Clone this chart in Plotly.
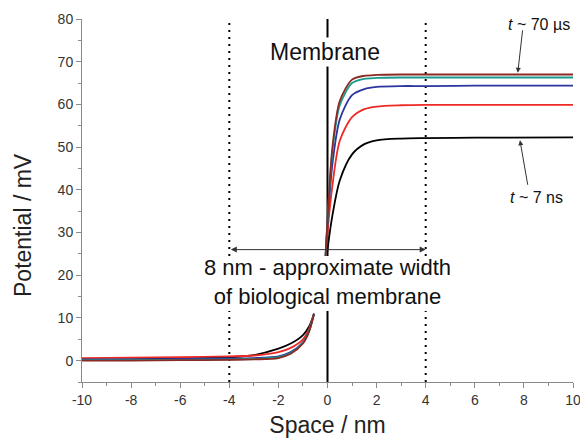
import plotly.graph_objects as go

# ---- data ----
# left part of the curves (x < 0)
x_left = [-10, -8, -6, -4, -3, -2, -1.5, -1, -0.75, -0.55]
left_black = [0.2, 0.3, 0.5, 0.8, 1.3, 2.8, 4.0, 6.0, 8.0, 11.0]
left_red = [0.6, 0.7, 0.8, 1.0, 1.2, 2.0, 3.0, 5.0, 7.5, 11.0]
left_blue = [0.3, 0.3, 0.4, 0.5, 0.6, 1.0, 2.0, 4.3, 7.0, 11.0]
left_teal = [0.1, 0.1, 0.2, 0.3, 0.4, 0.8, 1.8, 4.2, 7.0, 11.0]
left_brown = [0.0, 0.0, 0.1, 0.2, 0.3, 0.6, 1.6, 4.0, 6.8, 11.0]

# right part of the curves (x > 0)
x_right = [-0.12, 0, 0.2, 0.5, 1.0, 1.5, 2.0, 3.0, 4.0, 6.0, 10.0]
right_black = [20, 26, 34, 42.2, 48.3, 50.7, 51.6, 52.0, 52.1, 52.2, 52.3]
right_red = [20, 30, 41, 51.5, 57.0, 58.9, 59.5, 59.8, 59.9, 59.9, 59.9]
right_blue = [20, 32, 46, 56.5, 62.2, 63.6, 64.1, 64.3, 64.3, 64.4, 64.4]
right_teal = [20, 33, 49, 59.8, 65.0, 66.0, 66.2, 66.3, 66.3, 66.3, 66.3]
right_brown = [20, 33, 50, 60.8, 65.8, 66.7, 66.9, 67.0, 67.0, 67.0, 67.0]

series_names = ["t ~ 7 ns", "red", "blue", "teal", "t ~ 70 µs"]
series_colors = ["#000000", "#ee2a24", "#2b35a0", "#1a9c8c", "#8a2a22"]
left_values = [left_black, left_red, left_blue, left_teal, left_brown]
right_values = [right_black, right_red, right_blue, right_teal, right_brown]

x_tick_vals = [-10, -8, -6, -4, -2, 0, 2, 4, 6, 8, 10]
x_tick_labels = ["-10", "-8", "-6", "-4", "-2", "0", "2", "4", "6", "8", "10"]
y_tick_vals = [0, 10, 20, 30, 40, 50, 60, 70, 80]
y_tick_labels = ["0", "10", "20", "30", "40", "50", "60", "70", "80"]

membrane_edges = [-4, 4]
arrow_level = 26

FONT = "Liberation Sans, Arial, sans-serif"

W, H = 580, 444
ML, MR, MT, MB = 82, 7, 19, 62
plot_w = W - ML - MR
plot_h = H - MT - MB


def px_x(p):
    return (p - ML) / plot_w


def px_y(p):
    return 1 - (p - MT) / plot_h


fig = go.Figure()

# membrane line
fig.add_shape(type="line", x0=0, x1=0, y0=-5, y1=80, xref="x", yref="y",
              line=dict(color="#000000", width=2), layer="below")
# dotted membrane-edge lines
for xe in membrane_edges:
    fig.add_shape(type="line", x0=xe, x1=xe, y0=-5, y1=80, xref="x", yref="y",
                  line=dict(color="#000000", width=2, dash="2px,5px"), layer="below")

for name, col, lv, rv in zip(series_names, series_colors, left_values, right_values):
    fig.add_trace(go.Scatter(x=x_left, y=lv, mode="lines", name=name,
                             line=dict(color=col, width=1.8, shape="spline", smoothing=0.8),
                             showlegend=False))
    fig.add_trace(go.Scatter(x=x_right, y=rv, mode="lines", name=name,
                             line=dict(color=col, width=1.8, shape="spline", smoothing=0.8),
                             showlegend=False))

# white backing behind the two-line caption (covers lines like the reference)
fig.add_shape(type="rect", xref="paper", yref="paper",
              x0=px_x(196), x1=px_x(461), y0=px_y(311), y1=px_y(256),
              fillcolor="white", line=dict(width=0), layer="above")

# double-headed width arrow
fig.add_annotation(x=membrane_edges[1], y=arrow_level, ax=membrane_edges[0], ay=arrow_level,
                   xref="x", yref="y", axref="x", ayref="y", text="",
                   showarrow=True, arrowhead=2, startarrowhead=2, arrowside="end+start",
                   arrowsize=1.2, startarrowsize=1.2, arrowwidth=1, arrowcolor="#333333")

# caption
fig.add_annotation(x=0, xref="x", y=px_y(282), yref="paper", yanchor="middle",
                   text="8 nm - approximate width<br>of biological membrane", showarrow=False,
                   font=dict(family=FONT, size=22, color="#111111"))
fig.add_annotation(x=-0.1, y=72.2, xref="x", yref="y",
                   text="Membrane", showarrow=False, bgcolor="white",
                   font=dict(family=FONT, size=23, color="#111111"))

# t ~ 70 us
fig.add_annotation(x=7.75, y=67.4, xref="x", yref="y", text="", showarrow=True,
                   ax=5, ay=-44, arrowhead=2, arrowsize=1, arrowwidth=1, arrowcolor="#333333")
fig.add_annotation(x=8.6, y=1.015, xref="x", yref="paper", text="<i>t</i> ~ 70 µs",
                   showarrow=False, font=dict(family=FONT, size=16, color="#111111"))
# t ~ 7 ns
fig.add_annotation(x=7.84, y=51.6, xref="x", yref="y", text="", showarrow=True,
                   ax=8, ay=46, arrowhead=2, arrowsize=1, arrowwidth=1, arrowcolor="#333333")
fig.add_annotation(x=8.5, y=38.2, xref="x", yref="y", text="<i>t</i> ~ 7 ns",
                   showarrow=False, font=dict(family=FONT, size=16, color="#111111"))

# y axis title as an annotation (positioned like the reference)
fig.add_annotation(x=px_x(23), xref="paper", y=px_y(225), yref="paper", text="Potential / mV",
                   textangle=-90, showarrow=False, xanchor="center", yanchor="middle",
                   font=dict(family=FONT, size=23, color="#222222"))

axis_common = dict(showgrid=False, zeroline=False, showline=True, linecolor="#8a8a8a",
                   linewidth=1, ticks="outside", ticklen=5, tickwidth=1, tickcolor="#8a8a8a",
                   ticklabeloverflow="allow", automargin=False,
                   tickfont=dict(family=FONT, size=14, color="#333333"))

fig.update_xaxes(range=[-10, 10], tickvals=x_tick_vals, ticktext=x_tick_labels,
                 minor=dict(dtick=1, tick0=0, ticks="outside", ticklen=3, tickcolor="#8a8a8a"),
                 title=dict(text="Space / nm", standoff=10,
                            font=dict(family=FONT, size=23, color="#222222")),
                 **axis_common)
fig.update_yaxes(range=[-5, 80], tickvals=y_tick_vals, ticktext=y_tick_labels,
                 minor=dict(dtick=5, tick0=0, ticks="outside", ticklen=3, tickcolor="#8a8a8a"),
                 **axis_common)

fig.update_layout(width=W, height=H, margin=dict(l=ML, r=MR, t=MT, b=MB),
                  plot_bgcolor="white", paper_bgcolor="white", showlegend=False)

fig.write_html("out.html")
